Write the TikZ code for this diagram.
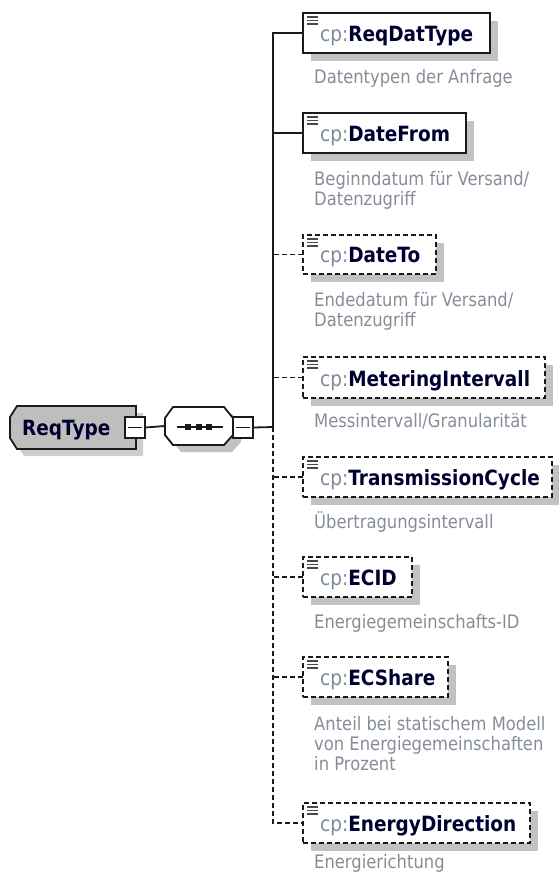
\documentclass[tikz,border=0pt]{standalone}
\usepackage{fontspec}
\setmainfont{DejaVu Sans}[FakeStretch=0.88]
\usetikzlibrary{shadows}
\definecolor{bord}{HTML}{1A1A1A}
\definecolor{shd}{HTML}{C2C2C2}
\definecolor{rtfill}{HTML}{BEBEBE}
\definecolor{rtshd}{HTML}{CDCDCD}
\definecolor{cpcol}{HTML}{7F8A99}
\definecolor{namecol}{HTML}{000030}
\definecolor{desccol}{HTML}{858D99}
\newcommand\namefont{\fontsize{21}{24}\selectfont}
\newcommand\descfont{\fontsize{18.6}{20}\selectfont}
\newcommand\xsdicon[1]{\foreach \k in {4,7.5,11} \draw[iconline] ([xshift=4pt,yshift=-\k pt]#1.north west) -- ++(11,0);}
\newcommand\cpname[1]{{\color{cpcol}cp:}{\bfseries\color{namecol}#1}}
\begin{document}
\begin{tikzpicture}[x=1pt,y=-1pt,
 elembox/.style={draw=bord, fill=white, line width=1.8pt, inner sep=0pt, outer sep=0pt,
   anchor=north west, minimum height=40pt,
   general shadow={fill=shd, shadow xshift=8pt, shadow yshift=-8pt}},
 optbox/.style={elembox, dash pattern=on 5pt off 3pt},
 conn/.style={draw=bord, line width=1.8pt},
 optconn/.style={conn, dash pattern=on 5pt off 3pt},
 nm/.style={anchor=base west, inner sep=0pt, font=\namefont},
 ds/.style={anchor=base west, inner sep=0pt, align=left, font=\descfont, text=desccol},
 minusbox/.style={draw=bord, fill=white, line width=1.6pt, minimum width=20pt, minimum height=21pt, inner sep=0pt},
 iconline/.style={draw=bord!80, line width=1.6pt},
]
\useasboundingbox (0,0) rectangle (558,874);

% root element
\fill[rtshd] (24,413) -- (143,413) -- (143,456) -- (24,456) -- (17,445) -- (17,424) -- cycle;
\path[draw=bord, fill=rtfill, line width=1.8pt] (17,406) -- (136,406) -- (136,449) -- (17,449) -- (10,438) -- (10,417) -- cycle;
\node[anchor=base west, inner sep=0pt, font=\namefont\bfseries, text=namecol] (root) at (22,435) {ReqType};
\node[minusbox] (rmin) at (135,427.5) {};
\draw[bord, line width=1.5pt] ([xshift=4pt]rmin.west) -- ([xshift=-4pt]rmin.east);

% sequence compositor
\fill[shd] (181,414) -- (232,414) -- (241,425) -- (241,442) -- (232,452) -- (181,452) -- (173,442) -- (173,425) -- cycle;
\path[draw=bord, fill=white, line width=1.8pt] (173,407) -- (224,407) -- (233,418) -- (233,435) -- (224,445) -- (173,445) -- (165,435) -- (165,418) -- cycle;
\node[inner sep=0pt, minimum width=68pt, minimum height=38pt] (seq) at (199,426) {};
\draw[bord, line width=1.6pt] (177,427) -- (223,427);
\foreach \dx in {188,199,209} \fill[bord] (\dx-2.7,424.3) rectangle (\dx+2.7,429.7);
\node[minusbox] (smin) at (243,427.5) {};
\draw[bord, line width=1.5pt] ([xshift=4pt]smin.west) -- ([xshift=-4pt]smin.east);
\coordinate (trunk) at (273,427);

\draw[conn] (rmin.east) -- (seq.west);
\draw[conn] (smin.east) -- (trunk);

% children
\node[elembox, minimum width=187pt] (c1) at (303,13) {};
\node[elembox, minimum width=163pt] (c2) at (303,113) {};
\node[optbox, minimum width=133pt, minimum height=39pt] (c3) at (303,235) {};
\node[optbox, minimum width=242pt, minimum height=41pt] (c4) at (303,357) {};
\node[optbox, minimum width=249pt] (c5) at (303,457) {};
\node[optbox, minimum width=109pt] (c6) at (303,557) {};
\node[optbox, minimum width=145pt] (c7) at (303,657) {};
\node[optbox, minimum width=227pt] (c8) at (303,803) {};

\foreach \c in {c1,c2,c3,c4,c5,c6,c7,c8} {\xsdicon{\c}}

\node[nm] (n1) at (320,41.5) {\cpname{ReqDatType}};
\node[nm] (n2) at (320,141.5) {\cpname{DateFrom}};
\node[nm] (n3) at (320,263) {\cpname{DateTo}};
\node[nm] (n4) at (320,386) {\cpname{MeteringIntervall}};
\node[nm] (n5) at (320,485.5) {\cpname{TransmissionCycle}};
\node[nm] (n6) at (320,585.5) {\cpname{ECID}};
\node[nm] (n7) at (320,685.5) {\cpname{ECShare}};
\node[nm] (n8) at (320,831.5) {\cpname{EnergyDirection}};

\node[ds] (d1) at (314,83.5) {Datentypen der Anfrage};
\node[ds] (d2) at (314,206) {Beginndatum für Versand/\\Datenzugriff};
\node[ds] (d3) at (314,326) {Endedatum für Versand/\\Datenzugriff};
\node[ds] (d4) at (314,427) {Messintervall/Granularität};
\node[ds] (d5) at (314,528) {Übertragungsintervall};
\node[ds] (d6) at (314,628) {Energiegemeinschafts-ID};
\node[ds] (d7) at (314,770) {Anteil bei statischem Modell\\von Energiegemeinschaften\\in Prozent};
\node[ds] (d8) at (314,868.5) {Energierichtung};

% connectors
\draw[conn] (c1.west) -| (trunk);
\draw[conn] (c2.west) -- (c2.west -| trunk);
\draw[optconn] (c3.west) -- (c3.west -| trunk);
\draw[optconn] (c4.west) -- (c4.west -| trunk);
\draw[optconn] (c5.west) -- (c5.west -| trunk);
\draw[optconn] (c6.west) -- (c6.west -| trunk);
\draw[optconn] (c7.west) -- (c7.west -| trunk);
\draw[optconn] (trunk) |- (c8.west);
\end{tikzpicture}
\end{document}
